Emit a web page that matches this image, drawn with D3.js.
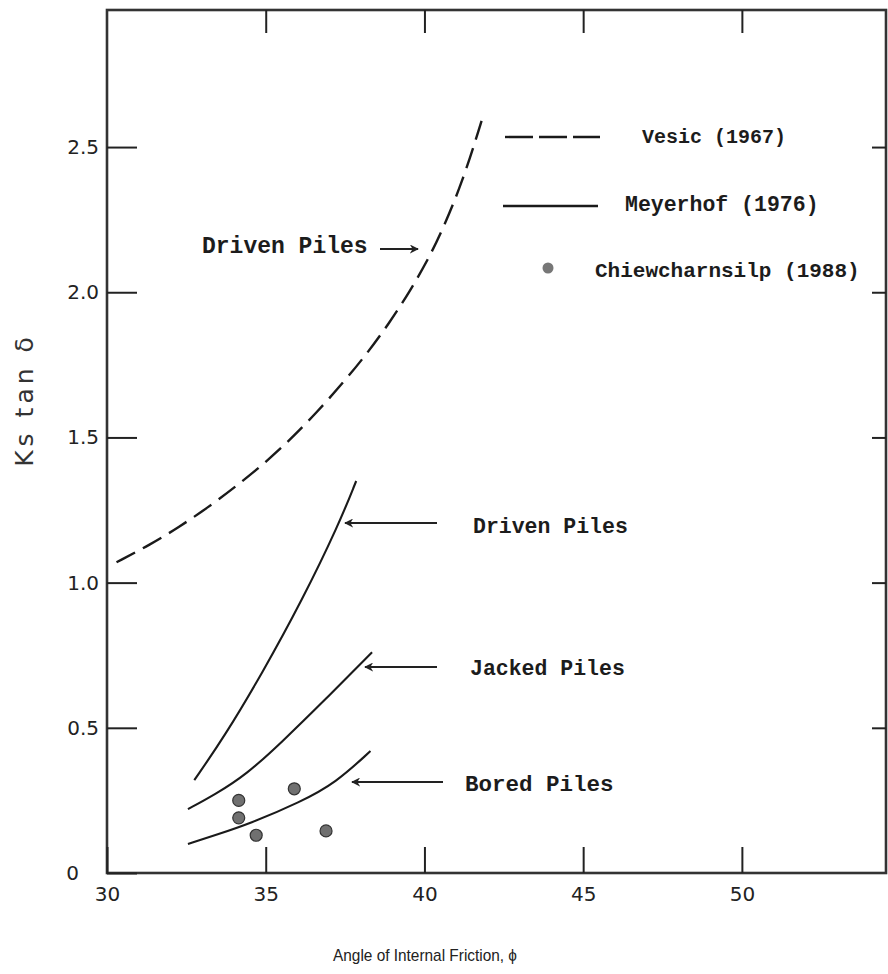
<!DOCTYPE html>
<html>
<head>
<meta charset="utf-8">
<script src="https://cdn.jsdelivr.net/npm/d3@7"></script>
<style>
  body { margin: 0; background: #fff; }
  .mono { font-family: 'Courier New', 'Liberation Mono', monospace; font-weight: bold; fill: #1c1c1c; }
  .tick text { font-family: 'DejaVu Sans', sans-serif; font-size: 20px; fill: #222; }
  .tick line { stroke: #222; stroke-width: 2; }
</style>
</head>
<body>
<script>
// Vesic (1967), driven piles
const vesicPhi = [30.3, 31.35, 32.25, 33.2, 34.1, 34.9, 35.75, 36.6, 37.45, 38.2, 38.9, 39.55, 40.1, 40.55, 41.2, 41.8];
const vesicK   = [1.07, 1.13, 1.19, 1.26, 1.335, 1.405, 1.49, 1.585, 1.69, 1.79, 1.895, 2.005, 2.11, 2.21, 2.38, 2.59];

// Meyerhof (1976)
const drivenPhi = [32.75, 33.7, 34.9, 36.15, 37.3, 37.85];
const drivenK   = [0.32, 0.47, 0.69, 0.94, 1.20, 1.35];

const jackedPhi = [32.55, 33.4, 34.4, 35.5, 36.9, 38.35];
const jackedK   = [0.22, 0.27, 0.34, 0.45, 0.60, 0.76];

const boredPhi = [32.55, 33.4, 34.5, 36.1, 37.2, 38.3];
const boredK   = [0.10, 0.13, 0.17, 0.245, 0.31, 0.42];

// Chiewcharnsilp (1988)
const testPhi = [34.15, 34.15, 34.7, 35.9, 36.9];
const testK   = [0.25, 0.19, 0.13, 0.29, 0.145];

const xTicks = [30, 35, 40, 45, 50];
const yTicks = [0, 0.5, 1.0, 1.5, 2.0, 2.5];

const width = 888;
const height = 974;
const margin = { top: 10, right: 2, bottom: 101, left: 107 };

const x = d3.scaleLinear()
  .domain([30, 54.54])
  .range([margin.left, width - margin.right]);

const y = d3.scaleLinear()
  .domain([0, 2.972])
  .range([height - margin.bottom, margin.top]);

const svg = d3.select('body')
  .append('svg')
  .attr('width', width)
  .attr('height', height);

const defs = svg.append('defs');
defs.append('marker')
  .attr('id', 'head')
  .attr('viewBox', '0 0 10 10')
  .attr('refX', 9)
  .attr('refY', 5)
  .attr('markerWidth', 9)
  .attr('markerHeight', 9)
  .attr('markerUnits', 'userSpaceOnUse')
  .attr('orient', 'auto')
  .append('path')
    .attr('d', 'M0,0 L10,5 L0,10 L3,5 Z')
    .attr('fill', '#222');

// frame
svg.append('rect')
  .attr('x', margin.left)
  .attr('y', margin.top)
  .attr('width', width - margin.left - margin.right)
  .attr('height', height - margin.top - margin.bottom)
  .attr('fill', 'none')
  .attr('stroke', '#333')
  .attr('stroke-width', 2.6);

// axes, ticks pointing inward
svg.append('g')
  .attr('transform', `translate(0,${height - margin.bottom})`)
  .call(d3.axisBottom(x).tickValues(xTicks).tickSize(-26).tickPadding(14).tickFormat(d3.format('d')))
  .call(g => g.select('.domain').remove());

svg.append('g')
  .attr('transform', `translate(${margin.left},0)`)
  .call(d3.axisLeft(y).tickValues(yTicks).tickSize(-30).tickPadding(8)
    .tickFormat(d => d === 0 ? '0' : d3.format('.1f')(d)))
  .call(g => g.select('.domain').remove())
  .call(g => g.selectAll('.tick text').filter(d => d === 0).attr('dx', -20));

svg.append('g')
  .attr('transform', `translate(0,${margin.top})`)
  .call(d3.axisTop(x).tickValues(xTicks.slice(1)).tickSize(-23).tickFormat(''))
  .call(g => g.select('.domain').remove());

svg.append('g')
  .attr('transform', `translate(${width - margin.right},0)`)
  .call(d3.axisRight(y).tickValues(yTicks.slice(1)).tickSize(-14).tickFormat(''))
  .call(g => g.select('.domain').remove());

// axis titles
svg.append('text')
  .attr('x', 425)
  .attr('y', 961)
  .attr('text-anchor', 'middle')
  .attr('font-family', 'Liberation Sans, Arial, sans-serif')
  .attr('font-size', 17)
  .attr('textLength', 184)
  .attr('lengthAdjust', 'spacingAndGlyphs')
  .attr('fill', '#222')
  .text('Angle of Internal Friction, \u03D5');

svg.append('text')
  .attr('transform', 'translate(33,400) rotate(-90)')
  .attr('text-anchor', 'middle')
  .attr('font-family', 'DejaVu Sans, sans-serif')
  .attr('font-size', 25)
  .attr('letter-spacing', 4)
  .attr('fill', '#333')
  .text('Ks tan \u03B4');

// curves
const line = d3.line()
  .x(d => x(d[0]))
  .y(d => y(d[1]))
  .curve(d3.curveBasis);

const series = [
  { phi: vesicPhi, k: vesicK, dash: '21,9', w: 2.4 },
  { phi: drivenPhi, k: drivenK, dash: null, w: 2.1 },
  { phi: jackedPhi, k: jackedK, dash: null, w: 2.1 },
  { phi: boredPhi, k: boredK, dash: null, w: 2.1 }
];

svg.append('g')
  .selectAll('path')
  .data(series)
  .enter().append('path')
    .attr('d', s => line(d3.zip(s.phi, s.k)))
    .attr('fill', 'none')
    .attr('stroke', '#1a1a1a')
    .attr('stroke-width', s => s.w)
    .attr('stroke-dasharray', s => s.dash);

// test points
svg.append('g')
  .selectAll('circle')
  .data(d3.zip(testPhi, testK))
  .enter().append('circle')
    .attr('cx', d => x(d[0]))
    .attr('cy', d => y(d[1]))
    .attr('r', 6)
    .attr('fill', '#707070')
    .attr('stroke', '#333')
    .attr('stroke-width', 1.2);

// annotations
const notes = [
  { text: 'Driven Piles', tx: 202, ty: 245, size: 23, x1: 380, x2: 418, ay: 249 },
  { text: 'Driven Piles', tx: 473, ty: 525, size: 21.5, x1: 437, x2: 345, ay: 523 },
  { text: 'Jacked Piles', tx: 470, ty: 667, size: 21.5, x1: 437, x2: 365, ay: 667 },
  { text: 'Bored Piles',  tx: 465, ty: 783, size: 22.5, x1: 443, x2: 352, ay: 782 }
];

const note = svg.append('g').selectAll('g').data(notes).enter().append('g');
note.append('text')
  .attr('class', 'mono')
  .attr('x', d => d.tx)
  .attr('y', d => d.ty)
  .attr('dy', '0.35em')
  .attr('font-size', d => d.size)
  .text(d => d.text);
note.append('line')
  .attr('x1', d => d.x1)
  .attr('x2', d => d.x2)
  .attr('y1', d => d.ay)
  .attr('y2', d => d.ay)
  .attr('stroke', '#222')
  .attr('stroke-width', 2)
  .attr('marker-end', 'url(#head)');

// legend
const legend = svg.append('g');
legend.append('line')
  .attr('x1', 505).attr('x2', 600).attr('y1', 137).attr('y2', 137)
  .attr('stroke', '#1a1a1a').attr('stroke-width', 2.4)
  .attr('stroke-dasharray', '28,6');
legend.append('text')
  .attr('class', 'mono').attr('x', 642).attr('y', 136).attr('dy', '0.35em')
  .attr('font-size', 20).text('Vesic (1967)');

legend.append('line')
  .attr('x1', 503).attr('x2', 598).attr('y1', 206).attr('y2', 206)
  .attr('stroke', '#1a1a1a').attr('stroke-width', 2.4);
legend.append('text')
  .attr('class', 'mono').attr('x', 625).attr('y', 203).attr('dy', '0.35em')
  .attr('font-size', 21.5).text('Meyerhof (1976)');

legend.append('circle')
  .attr('cx', 548).attr('cy', 268).attr('r', 5.5)
  .attr('fill', '#777');
legend.append('text')
  .attr('class', 'mono').attr('x', 595).attr('y', 270).attr('dy', '0.35em')
  .attr('font-size', 21).text('Chiewcharnsilp (1988)');
</script>
</body>
</html>
